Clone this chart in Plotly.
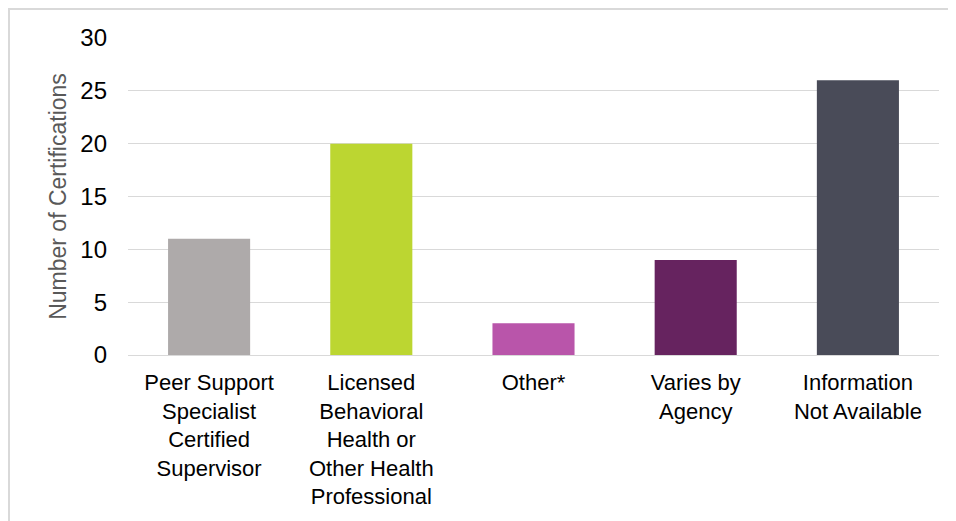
import plotly.graph_objects as go

CATEGORIES = [
    'Peer Support<br>Specialist<br>Certified<br>Supervisor',
    'Licensed<br>Behavioral<br>Health or<br>Other Health<br>Professional',
    'Other*',
    'Varies by<br>Agency',
    'Information<br>Not Available',
]
COUNTS = [11, 20, 3, 9, 26]
BAR_COLORS = ['#AEAAAA', '#BCD631', '#B955AA', '#66235F', '#494B58']
Y_TICKS = [0, 5, 10, 15, 20, 25, 30]

GRID = '#D9D9D9'
FONT = 'Liberation Sans, Arial, sans-serif'

fig = go.Figure()
fig.add_trace(go.Bar(
    x=CATEGORIES,
    y=COUNTS,
    marker=dict(color=BAR_COLORS, line=dict(width=0)),
    hovertemplate='%{x}: %{y}<extra></extra>',
))

# the page body has an 8px margin, so the figure starts at (8, 8) in the view;
# size it so it just fills the rest of the window without scrollbars
fig.update_layout(
    width=948,
    height=513,
    margin=dict(l=120, r=17, t=30, b=166),
    plot_bgcolor='white',
    paper_bgcolor='white',
    font=dict(family=FONT, size=22, color='#000000'),
    bargap=0.494,
    showlegend=False,
    xaxis=dict(
        showgrid=False,
        showline=False,
        ticks='',
        ticklabelstandoff=12,
        tickfont=dict(size=22, color='#000000'),
    ),
    yaxis=dict(
        range=[0, 30],
        tickvals=Y_TICKS,
        showgrid=True,
        gridcolor=GRID,
        gridwidth=1,
        zeroline=True,
        zerolinecolor=GRID,
        zerolinewidth=1,
        showline=False,
        ticks='',
        ticklabelstandoff=20,
        tickfont=dict(size=24, color='#000000'),
        title=dict(text='Number of Certifications',
                   font=dict(size=23, color='#595959'),
                   standoff=7),
    ),
    shapes=[
        # chart frame: only left and top edges fall inside the view
        dict(type='line', xref='paper', yref='paper',
             x0=-120 / 811, x1=1.2, y0=1 + 29 / 317, y1=1 + 29 / 317,
             line=dict(color=GRID, width=2)),
        dict(type='line', xref='paper', yref='paper',
             x0=-119 / 811, x1=-119 / 811, y0=-0.6, y1=1 + 30 / 317,
             line=dict(color=GRID, width=2)),
    ],
)

fig.write_html('out.html')
